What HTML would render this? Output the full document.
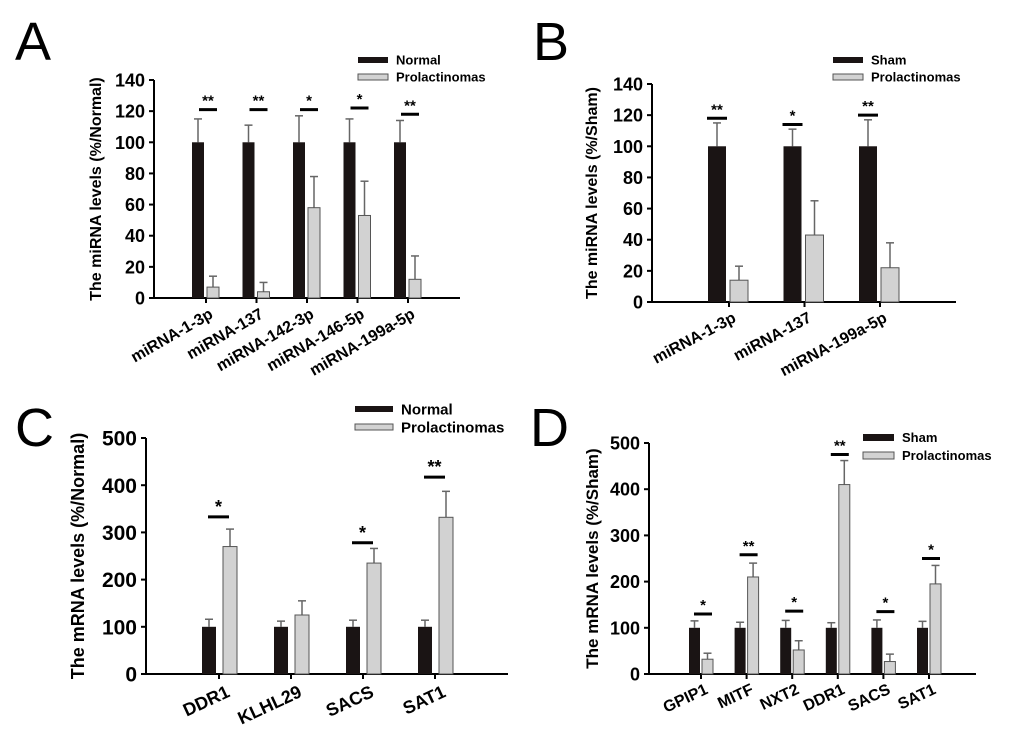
<!DOCTYPE html>
<html><head><meta charset="utf-8"><style>
html,body{margin:0;padding:0;background:#fff;}
svg{display:block;font-family:"Liberation Sans",Arial,sans-serif;}
</style></head><body>
<svg id="fig" width="1013" height="755" viewBox="0 0 1013 755" xmlns="http://www.w3.org/2000/svg"></svg>
<script>
// Panel A data
const catsA = ["miRNA-1-3p","miRNA-137","miRNA-142-3p","miRNA-146-5p","miRNA-199a-5p"];
const ctrlA = [100,100,100,100,100];
const ctrlErrA = [115,111,117,115,114];
const tumA = [7,4,58,53,12];
const tumErrA = [14,10,78,75,27];
const sigA = ["**","**","*","*","**"];
const sigYA = [121,121,121,122,118];
const ticksA = [0,20,40,60,80,100,120,140];
// Panel B data
const catsB = ["miRNA-1-3p","miRNA-137","miRNA-199a-5p"];
const ctrlB = [100,100,100];
const ctrlErrB = [115,111,117];
const tumB = [14,43,22];
const tumErrB = [23,65,38];
const sigB = ["**","*","**"];
const sigYB = [118,114,120];
const ticksB = [0,20,40,60,80,100,120,140];
// Panel C data
const catsC = ["DDR1","KLHL29","SACS","SAT1"];
const ctrlC = [100,100,100,100];
const ctrlErrC = [116,112,114,114];
const tumC = [270,125,235,332];
const tumErrC = [307,155,266,387];
const sigC = ["*","","*","**"];
const sigYC = [333,0,278,417];
const ticksC = [0,100,200,300,400,500];
// Panel D data
const catsD = ["GPIP1","MITF","NXT2","DDR1","SACS","SAT1"];
const ctrlD = [100,100,100,100,100,100];
const ctrlErrD = [115,112,116,111,117,114];
const tumD = [32,210,52,410,27,195];
const tumErrD = [45,240,72,462,43,235];
const sigD = ["*","**","*","**","*","*"];
const sigYD = [130,258,136,475,135,250];
const ticksD = [0,100,200,300,400,500];

const NS="http://www.w3.org/2000/svg";
const fig=document.getElementById('fig');
function el(tag,attrs,parent,text){
  const e=document.createElementNS(NS,tag);
  for(const k in attrs) e.setAttribute(k,attrs[k]);
  if(text!==undefined) e.textContent=text;
  (parent||fig).appendChild(e);
  return e;
}

function panel(cfg){
  const g=el('g',{});
  
  
  const yS=v=>cfg.y0-(v/cfg.ymax)*(cfg.y0-cfg.yTop);
  const xS=i=>cfg.tick0+i*cfg.step;
  const L=el('text',{x:cfg.lx,y:cfg.ly,'font-size':54,fill:'#000'},g,cfg.id);
  
  
  const ya=el('line',{x1:cfg.ax,y1:cfg.yTop,x2:cfg.ax,y2:cfg.y0,stroke:'#000','stroke-width':2},g);
  
  
  const xa=el('line',{x1:cfg.ax,y1:cfg.y0,x2:cfg.axEnd,y2:cfg.y0,stroke:'#000','stroke-width':2},g);
  
  
  cfg.ticks.forEach(t=>{
    const y=yS(t);
    el('line',{x1:cfg.ax-5,y1:y,x2:cfg.ax,y2:y,stroke:'#000','stroke-width':2},g);
    const tl=el('text',{x:cfg.ax-9,y:y+cfg.tf*0.36,'font-size':cfg.tf,'font-weight':'bold','text-anchor':'end'},g,String(t));
    
    
  });
  const cy=(cfg.yTop+cfg.y0)/2;
  const yt=el('text',{x:cfg.titleX,y:cy,'font-size':cfg.titleF,'font-weight':'bold','text-anchor':'middle',transform:`rotate(-90 ${cfg.titleX} ${cy})`},g,cfg.title);
  
  
  cfg.cats.forEach((c,i)=>{
    const cx=xS(i);
    el('line',{x1:cx,y1:cfg.y0,x2:cx,y2:cfg.y0+5,stroke:'#000','stroke-width':2},g);
    el('line',{x1:cx+cfg.bOff+cfg.bw/2,y1:yS(cfg.ctrlErr[i]),x2:cx+cfg.bOff+cfg.bw/2,y2:yS(cfg.ctrl[i]),stroke:'#666','stroke-width':1.5},g);
    el('line',{x1:cx+cfg.bOff+cfg.bw/2-4,y1:yS(cfg.ctrlErr[i]),x2:cx+cfg.bOff+cfg.bw/2+4,y2:yS(cfg.ctrlErr[i]),stroke:'#666','stroke-width':1.5},g);
    const b1=el('rect',{x:cx+cfg.bOff,y:yS(cfg.ctrl[i]),width:cfg.bw,height:cfg.y0-yS(cfg.ctrl[i]),fill:'#1a1414'},g);
    
    
    const gx=cx+cfg.gOff;
    el('line',{x1:gx+cfg.bw/2,y1:yS(cfg.tumErr[i]),x2:gx+cfg.bw/2,y2:yS(cfg.tum[i]),stroke:'#666','stroke-width':1.5},g);
    el('line',{x1:gx+cfg.bw/2-4,y1:yS(cfg.tumErr[i]),x2:gx+cfg.bw/2+4,y2:yS(cfg.tumErr[i]),stroke:'#666','stroke-width':1.5},g);
    const b2=el('rect',{x:gx,y:yS(cfg.tum[i]),width:cfg.bw,height:cfg.y0-yS(cfg.tum[i]),fill:'#d2d2d2',stroke:'#555','stroke-width':1},g);
    
    
    if(cfg.sig[i]){
      const sy=yS(cfg.sigY[i]);
      const sl=el('line',{x1:cx+cfg.sL,y1:sy,x2:cx+cfg.sR,y2:sy,stroke:'#000','stroke-width':3},g);
      
      
      const st=el('text',{x:cx+(cfg.sL+cfg.sR)/2,y:sy-4,'font-size':cfg.starF,'font-weight':'bold','text-anchor':'middle'},g,cfg.sig[i]);
      
      
    }
    const lx=cx+cfg.xlOff, ly=cfg.y0+cfg.xlDy;
    const xl=el('text',{x:lx,y:ly,'font-size':cfg.xf,'font-weight':'bold','text-anchor':'end',transform:`rotate(${cfg.rot} ${lx} ${ly})`},g,c);
    
    
  });
  const lg=el('g',{},g);
  
  
  el('rect',{x:cfg.legX,y:cfg.legY,width:cfg.legW,height:cfg.legH,fill:'#1a1414'},lg);
  const t1=el('text',{x:cfg.legX+cfg.legW+8,y:cfg.legY+cfg.legH/2+cfg.legF*0.36,'font-size':cfg.legF,'font-weight':'bold'},lg,cfg.ctrlName);
  
  
  const y2=cfg.legY+cfg.legGap;
  el('rect',{x:cfg.legX,y:y2,width:cfg.legW,height:cfg.legH,fill:'#d2d2d2',stroke:'#555','stroke-width':1},lg);
  const t2=el('text',{x:cfg.legX+cfg.legW+8,y:y2+cfg.legH/2+cfg.legF*0.36,'font-size':cfg.legF,'font-weight':'bold'},lg,'Prolactinomas');
  
  
}

panel({id:'A',lx:15,ly:60,ax:154,axEnd:460,y0:298,yTop:80,ymax:140,ticks:ticksA,tf:18,
  title:'The miRNA levels (%/Normal)',titleX:101,titleF:16,
  cats:catsA,ctrl:ctrlA,ctrlErr:ctrlErrA,tum:tumA,tumErr:tumErrA,sig:sigA,sigY:sigYA,
  tick0:206,step:50.5,bw:12,bOff:-14,gOff:1,sL:-7,sR:11,starF:15,
  xf:16,rot:-30,xlOff:8,xlDy:19,
  legX:358,legY:57,legW:30,legH:6,legGap:17,legF:13,ctrlName:'Normal'});

panel({id:'B',lx:533,ly:60,ax:652,axEnd:956,y0:302,yTop:84,ymax:140,ticks:ticksB,tf:18,
  title:'The miRNA levels (%/Sham)',titleX:597,titleF:16,
  cats:catsB,ctrl:ctrlB,ctrlErr:ctrlErrB,tum:tumB,tumErr:tumErrB,sig:sigB,sigY:sigYB,
  tick0:729,step:75.5,bw:18,bOff:-21,gOff:1,sL:-22,sR:-2,starF:15,
  xf:16,rot:-28,xlOff:8,xlDy:19,
  legX:833,legY:57,legW:30,legH:6,legGap:17,legF:13,ctrlName:'Sham'});

panel({id:'C',lx:15,ly:446,ax:146,axEnd:508,y0:674,yTop:438,ymax:500,ticks:ticksC,tf:21,
  title:'The mRNA levels (%/Normal)',titleX:84,titleF:18,
  cats:catsC,ctrl:ctrlC,ctrlErr:ctrlErrC,tum:tumC,tumErr:tumErrC,sig:sigC,sigY:sigYC,
  tick0:219,step:72,bw:14,bOff:-17,gOff:4,sL:-11,sR:10,starF:18,
  xf:18,rot:-25,xlOff:12,xlDy:22,
  legX:355,legY:406,legW:38,legH:6,legGap:18,legF:15,ctrlName:'Normal'});

panel({id:'D',lx:530,ly:446,ax:649,axEnd:976,y0:674,yTop:443,ymax:500,ticks:ticksD,tf:18,
  title:'The mRNA levels (%/Sham)',titleX:598,titleF:17,
  cats:catsD,ctrl:ctrlD,ctrlErr:ctrlErrD,tum:tumD,tumErr:tumErrD,sig:sigD,sigY:sigYD,
  tick0:701,step:45.6,bw:11,bOff:-12,gOff:1,sL:-7,sR:11,starF:15,
  xf:16,rot:-25,xlOff:8,xlDy:19,
  legX:863,legY:434,legW:31,legH:7,legGap:18,legF:13,ctrlName:'Sham'});
</script>
</body></html>
